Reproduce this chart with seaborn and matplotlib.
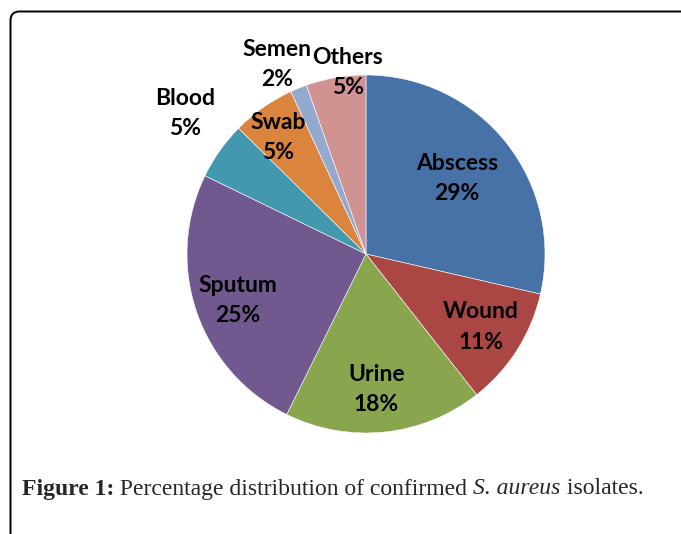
import numpy as np
import matplotlib
matplotlib.use("Agg")
import matplotlib.pyplot as plt
import seaborn as sns
from matplotlib.patches import FancyBboxPatch

# data (slice shares, labels as printed)
sources = ["Abscess", "Wound", "Urine", "Sputum", "Blood", "Swab", "Semen", "Others"]
shares = [28.6, 10.8, 17.9, 24.9, 5.2, 5.7, 1.5, 5.4]
pct_labels = ["29%", "11%", "18%", "25%", "5%", "5%", "2%", "5%"]
colors = ["#4672A8", "#AA4643", "#89A54E", "#71588F", "#4198AF", "#DB843D", "#93A9CF", "#D19392"]
# label placement (Excel "best fit" look): radius fraction and angle nudge
label_r = [0.66, 0.76, 0.76, 0.76, 1.28, 0.815, 1.17, 1.02]
label_dang = [1, 0, -1.5, 1, -2.5, 2, 3, -4]

sns.set_style("white")
plt.rcParams["font.family"] = ["Lato", "DejaVu Sans"]

W, H = 681, 534
fig = plt.figure(figsize=(W / 100, H / 100), dpi=100)
ax = fig.add_axes([0, 0, 1, 1])

cx, cy, R = 366, H - 254, 179
wedges, _ = ax.pie(shares, colors=colors, startangle=90, counterclock=False,
                   center=(cx, cy), radius=R, frame=True,
                   wedgeprops=dict(edgecolor="white", linewidth=0.4))
ax.set_xlim(0, W)
ax.set_ylim(0, H)
ax.set_aspect("equal")
ax.axis("off")

# frame with rounded corner (runs off right and bottom)
frame = FancyBboxPatch((10.5, -100), 900, H - 11.5 + 100,
                       boxstyle="round,pad=0,rounding_size=9",
                       fill=False, edgecolor="black", linewidth=1.4)
ax.add_patch(frame)

for w, name, p, rf, da in zip(wedges, sources, pct_labels, label_r, label_dang):
    mid = np.deg2rad((w.theta1 + w.theta2) / 2 + da)
    x = cx + rf * R * np.cos(mid)
    y = cy + rf * R * np.sin(mid)
    ax.text(x, y, f"{name}\n{p}", ha="center", va="center",
            fontsize=16.5, fontweight="bold", linespacing=1.55, color="black")

# caption with mixed styles
parts = [("Figure 1:", "bold", "normal"),
         (" Percentage distribution of confirmed ", "normal", "normal"),
         ("S. aureus", "normal", "italic"),
         (" isolates.", "normal", "normal")]
fig.canvas.draw()
r = fig.canvas.get_renderer()
xpos = 22
for s, wt, st in parts:
    t = fig.text(xpos / W, 1 - 489 / H, s, fontsize=17, fontweight=wt, fontstyle=st,
                 family="Liberation Serif", va="center", ha="left")
    bb = t.get_window_extent(renderer=r)
    xpos += bb.width

fig.savefig("out.png", dpi=100)
